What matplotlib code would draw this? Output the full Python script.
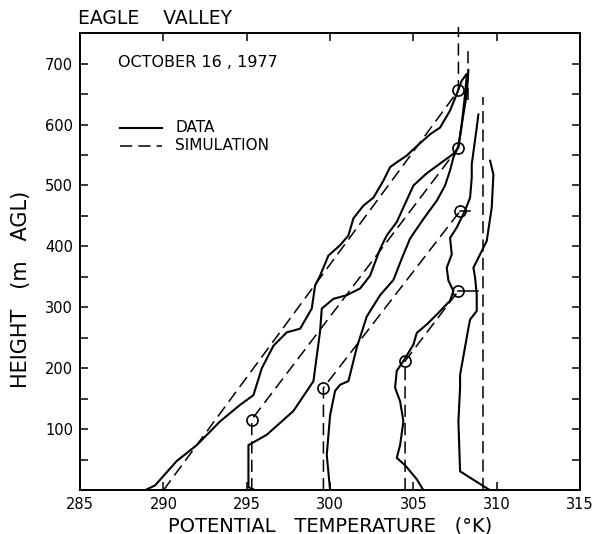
import numpy as np
import matplotlib.pyplot as plt
from matplotlib.ticker import MultipleLocator

# observed soundings (potential temperature K, height m)
d1_t = [288.9, 289.5, 290.8, 292.0, 293.4, 294.6, 295.4, 295.9, 296.6, 297.4, 298.2, 298.9,
        299.1, 299.4, 299.9, 300.6, 301.1, 301.4, 302.0, 302.6, 303.2, 303.6, 304.0, 304.6, 305.1,
        306.0, 306.6, 307.2, 307.6, 307.9, 308.2]
d1_z = [0, 8, 48, 74, 113, 140, 156, 200, 237, 259, 265, 298,
        336, 352, 385, 402, 418, 446, 467, 480, 508, 530, 538, 549, 562,
        584, 595, 623, 650, 672, 683]

d2_t = [295.5, 295.1, 295.1, 295.1, 296.2, 297.8, 299.0, 299.4, 299.5, 300.2, 301.0, 301.8, 302.4,
        303.0, 303.4, 304.0, 304.5, 305.0, 305.8, 306.8, 307.4, 307.7, 307.9, 308.2, 308.3]
d2_z = [0, 5, 20, 74, 91, 130, 179, 261, 298, 314, 320, 331, 352,
        396, 418, 440, 470, 500, 520, 540, 552, 562, 600, 650, 690]

d3_t = [300.0, 299.8, 300.0, 300.3, 300.6, 301.1, 301.6, 302.2, 303.0, 303.8, 304.3, 304.8,
        305.6, 306.4, 306.9, 307.2, 307.4, 307.7, 307.9, 308.1, 308.2]
d3_z = [0, 58, 123, 163, 173, 179, 234, 285, 320, 345, 380, 413,
        445, 475, 500, 525, 546, 565, 600, 650, 680]

d4_t = [305.6, 305.2, 304.5, 304.0, 304.2, 304.4, 304.2, 303.9, 304.0, 304.4, 305.0, 305.2, 305.8,
        306.5, 307.2, 307.4, 307.1, 307.0, 307.3, 307.2, 307.6, 308.1, 308.4, 308.5, 308.5, 308.8, 308.9]
d4_z = [0, 18, 41, 53, 74, 113, 146, 168, 196, 212, 239, 258, 272,
        291, 311, 327, 344, 365, 387, 414, 431, 459, 480, 513, 535, 595, 617]

d5_t = [309.6, 309.3, 307.8, 307.7, 307.8, 307.8, 308.3, 308.4, 308.8, 308.8, 308.7, 308.6, 309.0,
        309.4, 309.7, 309.8, 309.6]
d5_z = [0, 5, 31, 113, 168, 189, 266, 280, 294, 321, 349, 365, 387,
        409, 464, 518, 541]

# model profiles: mixed layer, then stable layer
s1_t = [290.0, 307.7, 307.7]
s1_z = [0, 656, 760]
s2_t = [295.3, 295.3, 307.7]
s2_z = [0, 116, 562]
s2_top_t = [308.3, 308.3]
s2_top_z = [640, 727]
s3_t = [299.6, 299.6, 307.8]
s3_z = [0, 168, 458]
s4_t = [304.5, 304.5, 307.7]
s4_z = [0, 212, 327]
s5_t = [309.2, 309.2]
s5_z = [0, 645]

# mixed-layer tops
top_t = [295.3, 299.6, 304.5, 307.7, 307.8, 307.7, 307.7]
top_z = [116, 168, 212, 327, 458, 562, 656]

plt.rcParams['font.family'] = 'DejaVu Sans'
fig = plt.figure(figsize=(5.98, 5.34), dpi=100)
ax = fig.add_axes([0.134, 0.082, 0.836, 0.856])

lw_d = 1.5
for t, z in [(d1_t, d1_z), (d2_t, d2_z), (d3_t, d3_z), (d4_t, d4_z), (d5_t, d5_z)]:
    ax.plot(t, z, color='black', lw=lw_d, solid_capstyle='round', solid_joinstyle='round')

for t, z in [(s1_t, s1_z), (s2_t, s2_z), (s2_top_t, s2_top_z), (s3_t, s3_z),
             (s4_t, s4_z), (s5_t, s5_z)]:
    ax.plot(t, z, color='black', lw=1.1, linestyle=(0, (8, 4)), clip_on=False)

# short links from the inversion top to the sounding
ax.plot([307.7, 308.9], [327, 327], color='black', lw=1.1)
ax.plot([307.8, 308.4], [458, 458], color='black', lw=1.1)

ax.plot(top_t, top_z, 'o', ms=8, mfc='none', mec='black', mew=1.2)

ax.set_xlim(285, 315)
ax.set_ylim(0, 750)
ax.xaxis.set_major_locator(MultipleLocator(5))
ax.yaxis.set_minor_locator(MultipleLocator(50))
ax.set_yticks([100, 200, 300, 400, 500, 600, 700])
ax.tick_params(direction='in', which='both', top=True, right=True, labelsize=10.5,
               length=6, width=1.1, pad=5)
for s in ax.spines.values():
    s.set_linewidth(1.4)

ax.set_xlabel('POTENTIAL   TEMPERATURE   (°K)', fontsize=14, labelpad=3)
ax.set_ylabel('HEIGHT   (m   AGL)', fontsize=15)
ax.yaxis.set_label_coords(-0.098, 0.44)
fig.text(0.13, 0.965, 'EAGLE    VALLEY', fontsize=13.5, ha='left', va='center')
ax.text(0.075, 0.935, 'OCTOBER 16 , 1977', transform=ax.transAxes, fontsize=11.5,
        ha='left', va='center')

# legend
ax.plot([287.4, 289.9], [595, 595], color='black', lw=lw_d)
ax.plot([287.4, 289.9], [565, 565], color='black', lw=1.1, linestyle=(0, (8, 4)))
ax.text(290.7, 595, 'DATA', fontsize=11, va='center')
ax.text(290.7, 565, 'SIMULATION', fontsize=11, va='center')

plt.savefig('out.png', dpi=100)
